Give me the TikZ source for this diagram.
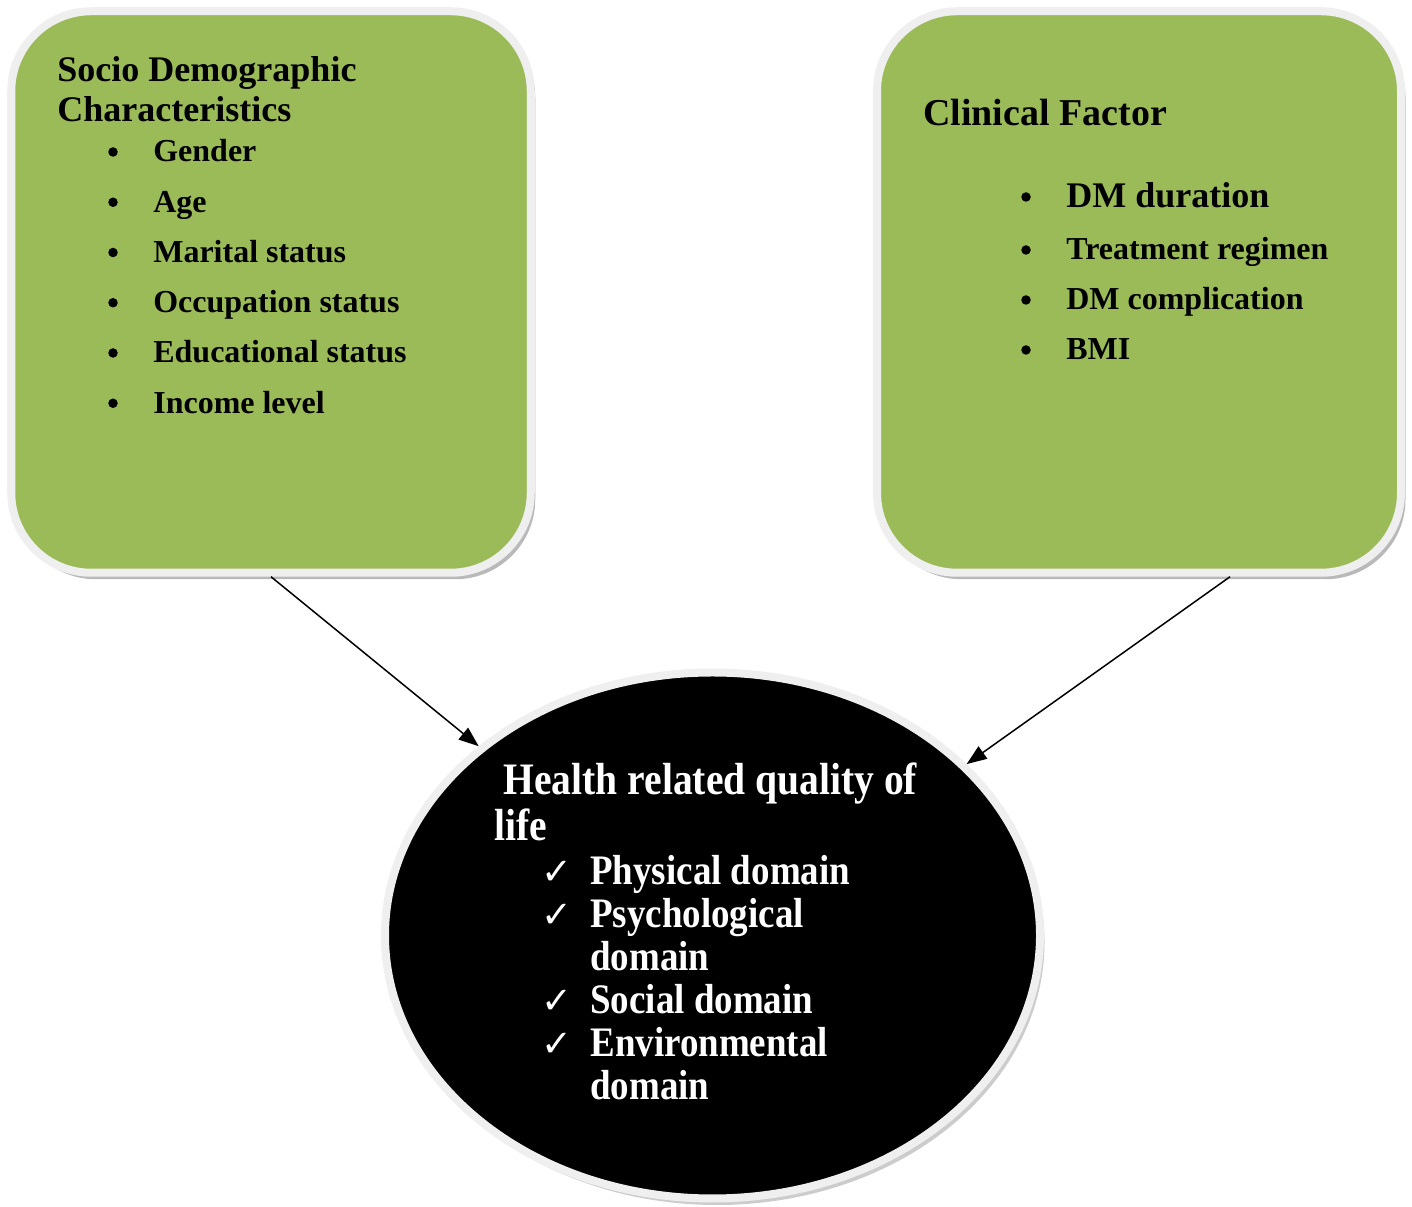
\documentclass[tikz,border=0pt]{standalone}
\usepackage{fontspec}
\setmainfont{Liberation Serif}
\newfontfamily\narrowserif{Liberation Serif}[FakeStretch=0.88]
\newfontfamily\symfont{DejaVu Sans}
\usetikzlibrary{positioning,shapes.geometric,arrows.meta,shadows,calc}

\definecolor{boxgreen}{HTML}{9BBB59}
\definecolor{rimgrey}{HTML}{EFEFEF}

\begin{document}
\begin{tikzpicture}[
    factor/.style={rectangle, rounded corners=1.6cm, fill=boxgreen, draw=rimgrey,
        line width=0.16cm, inner sep=0pt, minimum height=11.23cm,
        drop shadow={shadow xshift=0.09cm, shadow yshift=-0.13cm, fill=black!50, opacity=0.55}},
    outcome/.style={ellipse, fill=black, draw=rimgrey, line width=0.16cm, inner sep=0pt,
        minimum width=13.1cm, minimum height=10.52cm,
        drop shadow={shadow xshift=0.09cm, shadow yshift=-0.13cm, fill=black!40, opacity=0.5}},
    head/.style={anchor=base west, inner sep=0pt, font=\bfseries\fontsize{20.5}{24}\selectfont},
    item/.style={anchor=base west, inner sep=0pt, font=\bfseries\fontsize{18.2}{22}\selectfont},
    dot/.style={circle, fill=black, inner sep=0pt, minimum size=0.19cm},
    whitehead/.style={anchor=base west, inner sep=0pt, text=white,
        font=\narrowserif\bfseries\fontsize{25.6}{30}\selectfont},
    whiteitem/.style={anchor=base west, inner sep=0pt, text=white,
        font=\narrowserif\bfseries\fontsize{23.9}{28}\selectfont},
    tick/.style={anchor=base, inner sep=0pt, text=white, font=\symfont\fontsize{21}{24}\selectfont},
    link/.style={-{Triangle[length=0.4cm,width=0.3cm]}, line width=0.03cm}
]
\useasboundingbox (0,0) rectangle (28.24,24.14);

% the two factor boxes and the outcome
\node[factor, minimum width=10.39cm] (socio) at (5.42,18.30) {};
\node[factor, minimum width=10.48cm] (clinical) at (22.78,18.30) {};
\node[outcome] (hrqol) at (14.25,5.43) {};

% socio demographic box
\node[head] (sociohead1) at (1.14,22.50) {Socio Demographic};
\node[head] (sociohead2) at (1.14,21.70) {Characteristics};
\foreach \txt [count=\i] in {Gender, Age, Marital status, Occupation status,
        Educational status, Income level} {
    \node[dot] (sociodot\i) at (2.26,{21.10-(\i-1)*1.005}) {};
    \node[item] (socioitem\i) at (3.06,{20.90-(\i-1)*1.005}) {\txt};
}

% clinical box
\node[head, font=\bfseries\fontsize{21.6}{26}\selectfont] (clinhead) at (18.46,21.62) {Clinical Factor};
\node[dot] (clindot1) at (20.52,20.20) {};
\node[item, font=\bfseries\fontsize{20.5}{24}\selectfont] (clinitem1) at (21.32,19.98) {DM duration};
\foreach \txt [count=\i from 2] in {Treatment regimen, DM complication, BMI} {
    \node[dot] (clindot\i) at (20.52,{19.14-(\i-2)*1.0}) {};
    \node[item] (clinitem\i) at (21.32,{18.94-(\i-2)*1.0}) {\txt};
}

% outcome text
\node[whitehead] (hrqolhead1) at (10.06,8.24) {Health related quality of};
\node[whitehead] (hrqolhead2) at (9.88,7.32) {life};
\node[tick] (tick1) at (11.14,6.44) {✓};
\node[whiteitem] (dom1) at (11.80,6.44) {Physical domain};
\node[tick] (tick2) at (11.14,5.58) {✓};
\node[whiteitem] (dom2) at (11.80,5.58) {Psychological};
\node[whiteitem] (dom2b) at (11.80,4.72) {domain};
\node[tick] (tick3) at (11.14,3.86) {✓};
\node[whiteitem] (dom3) at (11.80,3.86) {Social domain};
\node[tick] (tick4) at (11.14,3.00) {✓};
\node[whiteitem] (dom4) at (11.80,3.00) {Environmental};
\node[whiteitem] (dom4b) at (11.80,2.14) {domain};

% arrows
\coordinate (clinfoot) at ($(clinical.south)+(1.82,0)$);
\draw[link] (socio.south) -- (hrqol.141);
\draw[link] (clinfoot) -- (hrqol.34);
\end{tikzpicture}
\end{document}
